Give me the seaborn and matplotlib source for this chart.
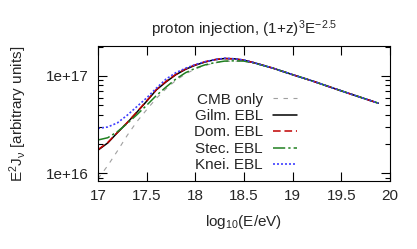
import numpy as np
import pandas as pd
import seaborn as sns
import matplotlib
matplotlib.use("Agg")
import matplotlib.pyplot as plt
from matplotlib.ticker import LogLocator, NullFormatter, FixedLocator

# log10(E/eV) grid
log_e = [17.0, 17.1, 17.2, 17.3, 17.4, 17.5, 17.6, 17.7, 17.8, 17.9,
         18.0, 18.1, 18.2, 18.3, 18.4, 18.5, 18.6, 18.8, 19.0, 19.2,
         19.4, 19.6, 19.88]

# E^2 J values, arbitrary units
cmb_only = [0.88e16, 1.2e16, 1.7e16, 2.45e16, 3.4e16, 4.5e16, 5.9e16, 7.4e16, 0.9e17, 1.05e17,
            1.18e17, 1.28e17, 1.36e17, 1.41e17, 1.42e17, 1.41e17, 1.36e17, 1.2e17, 1.03e17, 0.89e17,
            0.76e17, 0.65e17, 0.525e17]
gilm = [1.73e16, 2.05e16, 2.62e16, 3.3e16, 4.25e16, 5.5e16, 7.2e16, 0.87e17, 1.03e17, 1.17e17,
        1.29e17, 1.39e17, 1.47e17, 1.51e17, 1.5e17, 1.45e17, 1.37e17, 1.2e17, 1.03e17, 0.89e17,
        0.76e17, 0.65e17, 0.525e17]
dom = [1.75e16, 2.07e16, 2.63e16, 3.32e16, 4.27e16, 5.55e16, 7.25e16, 0.88e17, 1.04e17, 1.18e17,
       1.3e17, 1.4e17, 1.47e17, 1.51e17, 1.5e17, 1.45e17, 1.37e17, 1.2e17, 1.03e17, 0.89e17,
       0.76e17, 0.65e17, 0.525e17]
stec = [2.2e16, 2.32e16, 2.68e16, 3.25e16, 4.0e16, 5.0e16, 6.3e16, 7.7e16, 0.93e17, 1.08e17,
        1.2e17, 1.3e17, 1.37e17, 1.42e17, 1.43e17, 1.42e17, 1.36e17, 1.2e17, 1.03e17, 0.89e17,
        0.76e17, 0.65e17, 0.525e17]
knei = [2.89e16, 2.99e16, 3.3e16, 3.95e16, 4.85e16, 5.95e16, 7.5e16, 0.93e17, 1.08e17, 1.2e17,
        1.31e17, 1.4e17, 1.47e17, 1.52e17, 1.5e17, 1.46e17, 1.37e17, 1.2e17, 1.03e17, 0.89e17,
        0.76e17, 0.65e17, 0.525e17]

labels = ["CMB only", "Gilm. EBL", "Dom. EBL", "Stec. EBL", "Knei. EBL"]
series = [cmb_only, gilm, dom, stec, knei]
colors = ["#a0a0a0", "black", "#c00000", "#208020", "#4040ff"]
dashes = [(4, 5), (), (5, 2.5), (8, 2, 1.5, 2), (1.2, 1.2)]
widths = [0.8, 1.1, 1.1, 1.1, 1.2]

sns.set_style("ticks")
plt.rcParams["font.family"] = ["Liberation Sans", "DejaVu Sans"]
plt.rcParams["mathtext.fontset"] = "custom"
plt.rcParams["mathtext.rm"] = "Liberation Sans"
plt.rcParams["mathtext.it"] = "Liberation Sans"

fig = plt.figure(figsize=(4.17, 2.49), dpi=100)
ax = fig.add_axes([98 / 417, 1 - 181 / 249, 292 / 417, 135 / 249])

for lab, vals, c, d, w in zip(labels, series, colors, dashes, widths):
    df = pd.DataFrame({"x": log_e, "y": vals})
    sns.lineplot(data=df, x="x", y="y", ax=ax, color=c, lw=w, label=lab)
    line = ax.get_lines()[-1]
    if d:
        line.set_dashes(d)

ax.set_yscale("log")
ax.set_xlim(17, 20)
ax.set_ylim(8.34e15, 2.03e17)

ax.xaxis.set_major_locator(FixedLocator([17, 17.5, 18, 18.5, 19, 19.5, 20]))
ax.set_xticklabels(["17", "17.5", "18", "18.5", "19", "19.5", "20"])
ax.yaxis.set_minor_locator(LogLocator(base=10, subs=np.arange(2, 10), numticks=10))
ax.yaxis.set_minor_formatter(NullFormatter())
ax.set_yticks([1e16, 1e17])
ax.set_yticklabels(["1e+16", "1e+17"])

ax.tick_params(which="both", direction="in", top=True, right=True, labelsize=11, width=0.8, color="black")
ax.tick_params(which="major", length=6.5, pad=6)
ax.tick_params(which="minor", length=3.5)
ax.tick_params(axis="x", which="minor", top=False, bottom=False)
ax.tick_params(axis="y", which="major", pad=7)
for s in ax.spines.values():
    s.set_color("black")
    s.set_linewidth(0.8)

ax.set_xlabel("log$_{10}$(E/eV)", fontsize=11, labelpad=7)
ax.set_ylabel("E$^{2}$J$_{ν}$ [arbitrary units]", fontsize=11, labelpad=12)
ax.set_title("proton injection, (1+z)$^{3}$E$^{-2.5}$", fontsize=11, pad=9)

leg = ax.legend(loc="upper right", bbox_to_anchor=(0.683, 0.655), frameon=False,
                markerfirst=False, fontsize=11, handlelength=1.6, handletextpad=0.65,
                labelspacing=0.16, borderpad=0, borderaxespad=0)
for h, d, w in zip(leg.get_lines(), dashes, widths):
    if d:
        h.set_dashes(d)
    h.set_linewidth(w)

fig.savefig("out.png", dpi=100)
